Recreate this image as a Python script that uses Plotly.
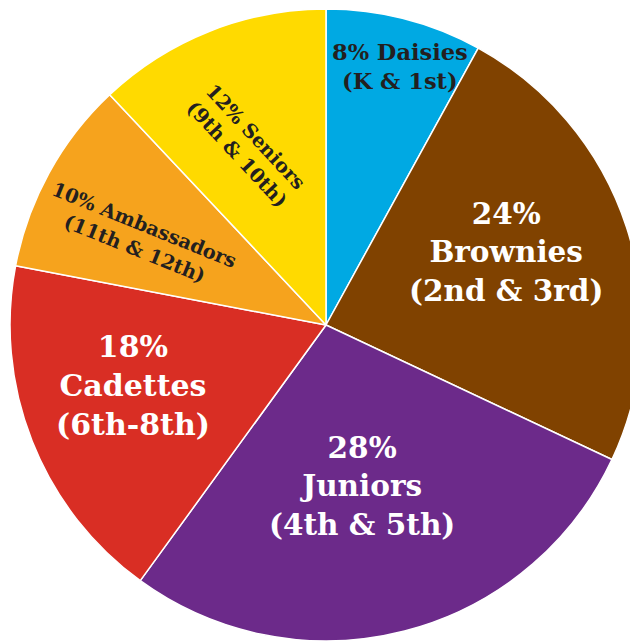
import math
import plotly.graph_objects as go

# ---- data ----
groups = ["Daisies", "Brownies", "Juniors", "Cadettes", "Ambassadors", "Seniors"]
grades = ["K & 1st", "2nd & 3rd", "4th & 5th", "6th-8th", "11th & 12th", "9th & 10th"]
shares = [8, 24, 28, 18, 10, 12]

# ---- styles ----
colors = ["#00A9E3", "#804200", "#6C2A8A", "#D92E24", "#F6A31D", "#FFDA00"]
text_colors = ["#231F20", "#FFFFFF", "#FFFFFF", "#FFFFFF", "#231F20", "#231F20"]
font_sizes = [22.5, 29.5, 29.5, 30, 19.5, 19.5]
text_angles = [0, 0, 0, 0, 22, 47]
radial_frac = [0.852, 0.614, 0.522, 0.64, 0.652, 0.62]
angle_shift = [1.5, -4.1, 1.8, 4.3, -3.5, -2.2]
one_line_first = [True, False, False, False, True, True]

fig = go.Figure(go.Pie(
    labels=groups,
    values=shares,
    sort=False,
    direction="clockwise",
    rotation=0,
    marker=dict(colors=colors, line=dict(color="white", width=1.5)),
    textinfo="none",
    hoverinfo="label+percent",
    showlegend=False,
))

total = sum(shares)
cum = 0
for i, v in enumerate(shares):
    mid = (cum + v / 2) / total * 360 + angle_shift[i]
    cum += v
    r = 0.5 * radial_frac[i]
    x = 0.5 + r * math.sin(math.radians(mid))
    y = 0.5 + r * math.cos(math.radians(mid))
    if one_line_first[i]:
        txt = f"{v}% {groups[i]}<br>({grades[i]})"
    else:
        txt = f"{v}%<br>{groups[i]}<br>({grades[i]})"
    fig.add_annotation(
        x=x, y=y, xref="paper", yref="paper",
        text=txt, showarrow=False, textangle=text_angles[i],
        font=dict(family="DejaVu Serif", size=font_sizes[i], color=text_colors[i], weight="bold"),
        align="center", xanchor="center", yanchor="middle",
    )

fig.update_layout(
    width=652, height=641,
    margin=dict(l=10, r=10, t=9, b=0),
    paper_bgcolor="white",
    plot_bgcolor="white",
)

fig.write_html(
    "out.html",
    config={"displayModeBar": False},
    post_script="document.body.style.margin='0';document.body.style.overflow='hidden';document.documentElement.style.overflow='hidden';",
)
